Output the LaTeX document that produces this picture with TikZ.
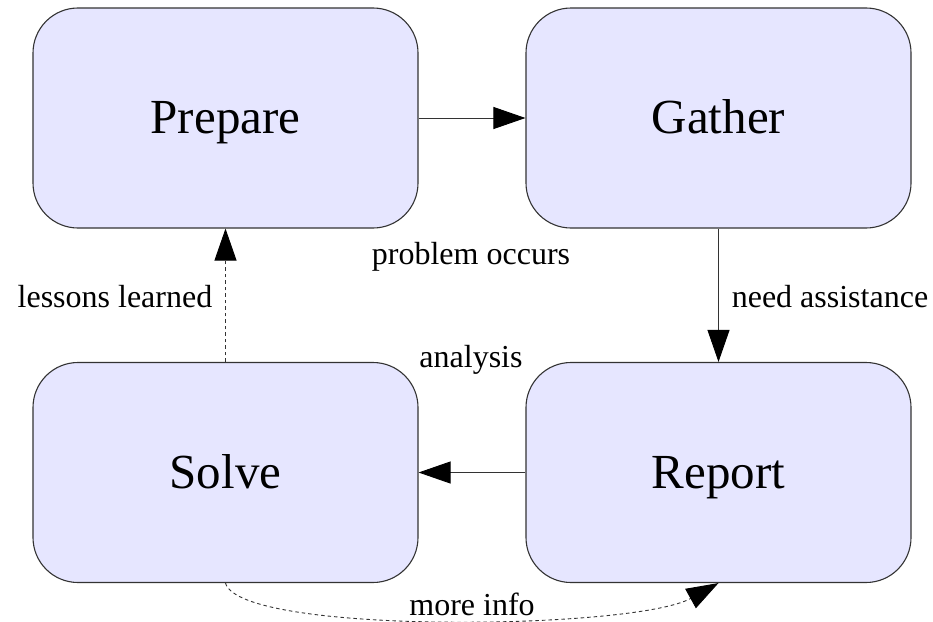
\documentclass[tikz,border=0pt]{standalone}
\usepackage{fontspec}
\setmainfont{Liberation Serif}
\usetikzlibrary{arrows.meta}
\definecolor{boxfill}{HTML}{E6E6FF}
\definecolor{boxline}{HTML}{333333}
\tikzset{
  stage/.style={draw=boxline, line width=1.1pt, fill=boxfill, rounded corners=45pt,
    minimum width=385pt, minimum height=220pt, inner sep=0pt,
    text height=31pt, text depth=0pt,
    font=\fontsize{49}{55}\selectfont},
  lbl/.style={font=\fontsize{32}{36}\selectfont, inner sep=0pt},
  arr/.style={line width=0.9pt, draw=black!80, -{Triangle[length=32pt, width=22pt, color=black, fill=black]}},
  dsh/.style={arr, dash pattern=on 3.5pt off 3pt}
}
\begin{document}
\begin{tikzpicture}[x=1pt, y=-1pt]
\useasboundingbox (0,0) rectangle (933,621);
\node[stage] (prep) at (225.5,118) {Prepare};
\node[stage] (gath) at (718.5,118) {Gather};
\node[stage] (solve) at (225.5,472.5) {Solve};
\node[stage] (rep) at (718.5,472.5) {Report};

\draw[arr] (prep.east) -- (gath.west);
\draw[arr] (gath.south) -- (rep.north);
\draw[arr] (rep.west) -- (solve.east);
\draw[dsh] (solve.north) -- (prep.south);
\draw[dsh] (solve.south) .. controls +(14,52) and +(-85,47) .. (rep.south);

\node[lbl] (lpo) at (471,257) {problem occurs};
\node[lbl] (lll) at (115,297) {lessons learned};
\node[lbl] (lna) at (830,297) {need assistance};
\node[lbl] (lan) at (471,360) {analysis};
\node[lbl, anchor=base, fill=white, inner xsep=6pt, inner ysep=1pt] (lmi) at (472,615) {more info};
\end{tikzpicture}
\end{document}
